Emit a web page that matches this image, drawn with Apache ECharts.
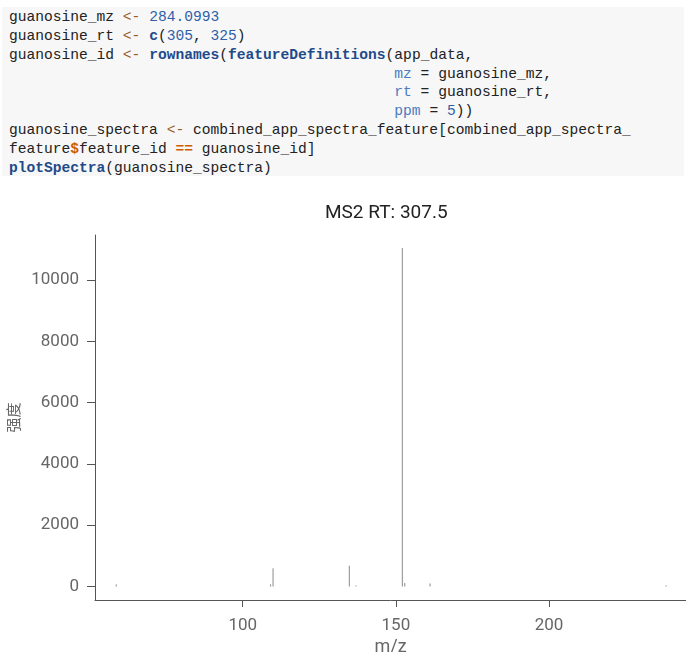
<!DOCTYPE html>
<html>
<head>
<meta charset="utf-8">
<script src="https://cdn.jsdelivr.net/npm/echarts@6/dist/echarts.min.js"></script>
<style>
  html, body { margin: 0; padding: 0; background: #fff; }
  #chart { position: absolute; left: 0; top: 0; width: 686px; height: 652px; }
  #code {
    position: absolute; left: 2px; top: 7px; width: 682px; height: 169px;
    background: #f7f7f7; margin: 0; padding: 0 0 0 7px; box-sizing: border-box;
    font-family: "Liberation Mono", "DejaVu Sans Mono", monospace;
    font-size: 14.6px; line-height: 18.84px; color: #222; white-space: pre;
    z-index: 2; padding-top: 1px;
  }
  .as { color: #9a5a1c; }
  .num { color: #2f5fa8; }
  .fn { color: #1f4a8a; font-weight: bold; }
  .arg { color: #4a7cc0; }
  .op { color: #ce5c00; font-weight: bold; }
</style>
</head>
<body>
<pre id="code">guanosine_mz <span class="as">&lt;-</span> <span class="num">284.0993</span>
guanosine_rt <span class="as">&lt;-</span> <span class="fn">c</span>(<span class="num">305</span>, <span class="num">325</span>)
guanosine_id <span class="as">&lt;-</span> <span class="fn">rownames</span>(<span class="fn">featureDefinitions</span>(app_data,
                                            <span class="arg">mz</span> = guanosine_mz,
                                            <span class="arg">rt</span> = guanosine_rt,
                                            <span class="arg">ppm</span> = <span class="num">5</span>))
guanosine_spectra <span class="as">&lt;-</span> combined_app_spectra_feature[combined_app_spectra_
feature<span class="op">$</span>feature_id <span class="op">==</span> guanosine_id]
<span class="fn">plotSpectra</span>(guanosine_spectra)</pre>
<div id="chart"></div>
<script>
// Peak data
const mzValues = [58.7, 109.1, 109.9, 134.8, 137.0, 152.1, 152.9, 161.15, 238.2];
const intensities = [70, 70, 594, 679, 35, 11044, 114, 100, 40];
const xTicks = [100, 150, 200];
const yTicks = [0, 2000, 4000, 6000, 8000, 10000];
const titleText = 'MS2 RT: 307.5';
const xName = 'm/z';
const yName = '强度';

const peaks = mzValues.map((m, i) => [m, intensities[i]]);

const chart = echarts.init(document.getElementById('chart'), null, { renderer: 'canvas' });
const axisColor = '#555';
const labelColor = '#666';
chart.setOption({
  animation: false,
  backgroundColor: '#fff',
  grid: { left: 95, right: 0, top: 235, bottom: 52, containLabel: false, outerBoundsMode: 'none' },
  graphic: [{
    type: 'text', left: 389 - 64, top: 204,
    style: { text: titleText, fill: '#222', font: '19px Roboto' }
  }],
  xAxis: {
    type: 'value', min: 51.78, max: 244.7,
    name: xName, nameLocation: 'middle', nameGap: 34,
    nameTextStyle: { color: labelColor, fontSize: 18, fontFamily: 'Roboto' },
    axisLine: { show: true, onZero: false, lineStyle: { color: axisColor, width: 1 } },
    axisTick: { show: true, length: 7, customValues: xTicks, lineStyle: { color: axisColor } },
    axisLabel: { customValues: xTicks, color: labelColor, fontSize: 17, fontFamily: 'Roboto', margin: 17,
      formatter: v => String(v) },
    splitLine: { show: false }
  },
  yAxis: {
    type: 'value', min: -440, max: 11468,
    name: yName, nameLocation: 'middle', nameGap: 69, nameRotate: 90,
    nameTextStyle: { color: labelColor, fontSize: 15, fontFamily: 'Noto Sans CJK SC' },
    axisLine: { show: true, onZero: false, lineStyle: { color: axisColor, width: 1 } },
    axisTick: { show: true, length: 8, customValues: yTicks, lineStyle: { color: axisColor } },
    axisLabel: { customValues: yTicks, color: labelColor, fontSize: 17, fontFamily: 'Roboto', margin: 16,
      formatter: v => String(v) },
    splitLine: { show: false }
  },
  series: [{
    type: 'custom',
    data: peaks,
    renderItem: function (params, api) {
      const p0 = api.coord([api.value(0), 0]);
      const p1 = api.coord([api.value(0), api.value(1)]);
      return {
        type: 'line',
        shape: { x1: p0[0], y1: p0[1], x2: p1[0], y2: p1[1] },
        style: { stroke: '#8a8a8a', lineWidth: 1 }
      };
    }
  }]
});
</script>
</body>
</html>
